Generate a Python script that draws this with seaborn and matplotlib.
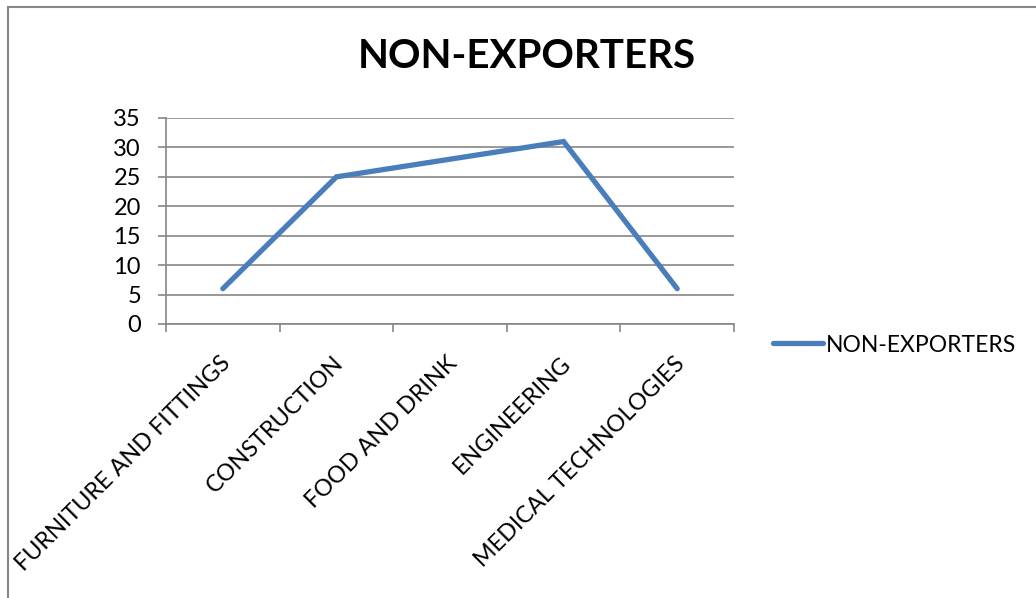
import matplotlib
matplotlib.use("Agg")
import matplotlib.pyplot as plt
from matplotlib.patches import Rectangle
from matplotlib.ticker import FixedLocator, NullFormatter
from matplotlib.transforms import ScaledTranslation
import seaborn as sns
import pandas as pd

sectors = ["FURNITURE AND FITTINGS", "CONSTRUCTION", "FOOD AND DRINK",
           "ENGINEERING", "MEDICAL TECHNOLOGIES"]
non_exporters = [6, 25, 28, 31, 6]
series_name = "NON-EXPORTERS"
y_ticks = [0, 5, 10, 15, 20, 25, 30, 35]

df = pd.DataFrame({"sector": sectors, "count": non_exporters})

sns.set_theme(style="white")
plt.rcParams["font.family"] = ["Lato", "DejaVu Sans"]

W, H = 1036, 598
fig = plt.figure(figsize=(W / 100, H / 100), dpi=100)
fig.patch.set_facecolor("white")

# plot area in pixel coordinates
left, right, top, bottom = 166, 734, 118, 324
ax = fig.add_axes([left / W, 1 - bottom / H, (right - left) / W, (bottom - top) / H])

line_color = "#4a7ebb"
grid_color = "#868686"

sns.lineplot(data=df, x="sector", y="count", ax=ax, color=line_color,
             linewidth=3.8, sort=False, label=series_name,
             solid_capstyle="round", solid_joinstyle="miter")

ax.set_xlim(-0.5, len(sectors) - 0.5)
ax.set_ylim(0, 35)
ax.set_yticks(y_ticks)
ax.set_xlabel("")
ax.set_ylabel("")

# horizontal gridlines
ax.yaxis.grid(True, color=grid_color, linewidth=1.2)
ax.xaxis.grid(False)
ax.set_axisbelow(True)

for side in ("top", "right"):
    ax.spines[side].set_visible(False)
for side in ("left", "bottom"):
    ax.spines[side].set_color(grid_color)
    ax.spines[side].set_linewidth(1.2)

# boundary ticks between categories, labels at category centers
ax.xaxis.set_major_locator(FixedLocator([i - 0.5 for i in range(len(sectors) + 1)]))
ax.xaxis.set_major_formatter(NullFormatter())
ax.xaxis.set_minor_locator(FixedLocator(range(len(sectors))))
ax.set_xticklabels(sectors, minor=True)
ax.tick_params(axis="x", which="major", direction="out", length=6, width=1.2,
               color=grid_color, bottom=True)
ax.tick_params(axis="x", which="minor", length=0, pad=26, labelsize=16.8,
               labelcolor="black")
shift = ScaledTranslation(0.04, 0, fig.dpi_scale_trans)
for lbl in ax.get_xticklabels(minor=True):
    lbl.set_rotation(45)
    lbl.set_rotation_mode("anchor")
    lbl.set_ha("right")
    lbl.set_va("center")
    lbl.set_transform(lbl.get_transform() + shift)

ax.tick_params(axis="y", direction="out", length=6, width=1.2, color=grid_color,
               left=True, pad=12, labelsize=17, labelcolor="black")

# legend to the right of the plot area
leg = ax.legend(loc="center left", bbox_to_anchor=(773 / W, 1 - 345 / H),
                bbox_transform=fig.transFigure, frameon=False, fontsize=16.5,
                handlelength=2.2, handletextpad=0.1, borderpad=0, borderaxespad=0)
for t in leg.get_texts():
    t.set_color("black")

fig.text(527 / W, 1 - 57 / H, series_name, ha="center", va="center",
         fontsize=29, fontweight="bold", color="black")

# chart frame
fig.patches.append(Rectangle((8 / W, -0.05), 1.1, 1.05 - 7 / H,
                             transform=fig.transFigure, fill=False,
                             edgecolor=grid_color, linewidth=1.5))

fig.savefig("out.png", dpi=100, facecolor="white")
